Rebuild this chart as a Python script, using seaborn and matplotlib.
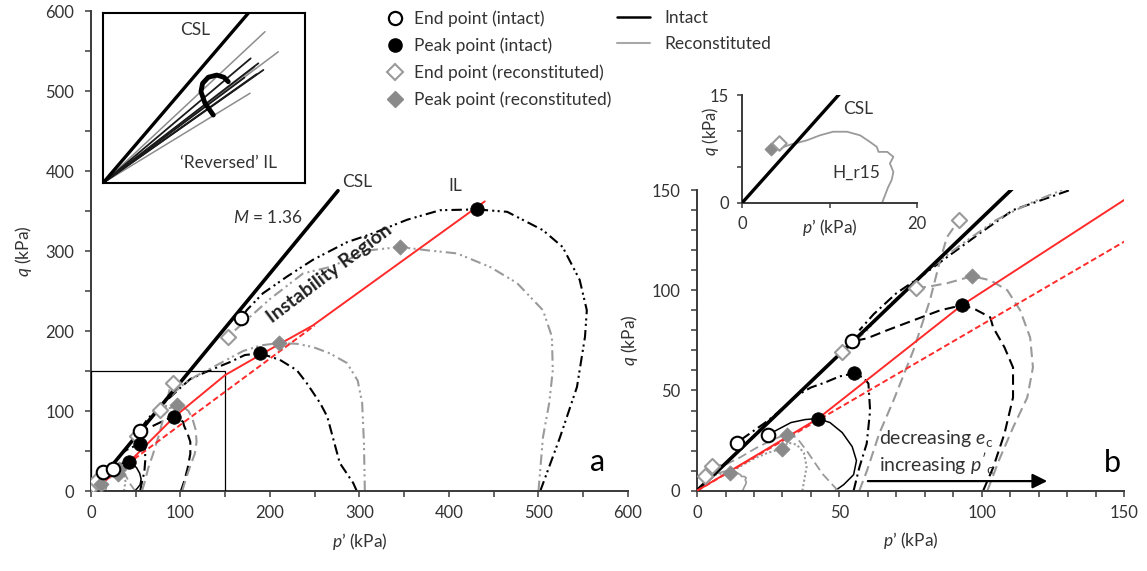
import matplotlib
matplotlib.use("Agg")
import matplotlib.pyplot as plt
from matplotlib.lines import Line2D
from matplotlib.patches import Rectangle
from matplotlib.ticker import MultipleLocator
import seaborn as sns

sns.set_style("ticks")
plt.rcParams["font.family"] = ["Lato", "DejaVu Sans"]
plt.rcParams["mathtext.fontset"] = "custom"
plt.rcParams["mathtext.rm"] = "Lato"
plt.rcParams["mathtext.it"] = "Lato:italic"
plt.rcParams["mathtext.bf"] = "Lato:bold"

# ---------------------------------------------------------------- data
M_csl = 1.36                      # critical state stress ratio
csl_p = [0, 276]
csl_q = [M_csl * p for p in csl_p]

il_intact_p = [0, 42.5, 93, 150, 200, 248, 440]
il_intact_q = [0, 36, 92.5, 145, 177, 207, 362]
il_recon_p = [0, 250]
il_recon_q = [0, 207]

# intact specimens (black)
i1_p = [48.5, 51.5, 55, 56, 54.5, 51, 46.7, 42.5, 38, 33, 29, 25]
i1_q = [0, 3, 8, 15, 22, 29, 34, 36, 35.5, 34, 31, 28]
i2_p = [55, 57, 59.6, 60.8, 60.2, 58.4, 55, 50, 45, 40, 35, 30, 25, 20, 14]
i2_q = [0, 11.5, 23.5, 40, 53.5, 56.5, 58.5, 57, 54, 51.5, 47.5, 41, 35, 30, 24]
i3_p = [100.5, 104, 108, 111, 111, 108, 104, 103, 97, 93, 85.4, 76, 66.7, 59.7, 54.4]
i3_q = [0, 11.5, 28.5, 46.5, 61.5, 71.5, 81.5, 86.5, 91, 92.5, 90, 85, 80, 76, 74.5]
i4_p = [297, 293, 278, 264, 256, 241, 230, 211, 189, 172, 155, 131, 123, 111,
        99.4, 87.8, 78.3, 70, 62, 57]
i4_q = [0, 10, 35, 93, 110, 135, 151, 164, 172, 170, 161, 150, 146, 140,
        128.5, 116.5, 106.5, 98.5, 88, 80]
i5_p = [502, 524, 543, 552, 554, 546, 527, 505, 465, 431, 390, 353, 315, 286,
        248, 219, 192, 174, 168]
i5_q = [0, 67, 130, 193, 226, 264, 305, 326, 349, 352, 351, 339, 322, 311,
        289, 268, 247, 226, 216]

# reconstituted specimens (grey)
r1_p = [37, 38.5, 37.5, 35, 32, 29.8, 25, 20, 15, 11.6, 6, 2.8]
r1_q = [0, 12, 19, 23, 24, 21, 19, 16, 12, 9, 8, 7.5]
r2_p = [49.5, 44, 38.5, 35, 31.6, 26, 21, 15, 10, 5.3]
r2_q = [0, 8.5, 20, 26.5, 28.5, 25, 21.5, 16.5, 13, 12.5]
r3_p = [102, 106, 111, 116, 118, 117, 113.5, 109, 103, 96.6, 87.8, 82, 77]
r3_q = [0, 15, 31.5, 46.5, 61.5, 76.5, 90, 100, 105, 107, 103.5, 102, 101]
r4_p = [306, 305, 303, 298, 286, 267, 248, 230, 210, 190, 170, 150, 130, 117,
        105, 93.5, 85.4, 78, 66.7, 59.7, 51]
r4_q = [0, 60, 110, 138, 160, 172, 180, 184, 185, 182, 175, 163, 151, 143.5,
        135, 123.5, 115, 106.5, 91.5, 80, 69]
r5_p = [500, 505, 512, 516, 515, 505, 476, 446, 409, 375, 345, 312, 267, 237,
        200, 175, 153]
r5_q = [0, 67, 110, 151, 193, 226, 260, 280, 297, 301, 305, 301, 280, 272,
        240, 215, 193]
r6_p = [57, 59.7, 64, 69, 76, 81.8, 85.4, 87.8, 92]
r6_q = [0, 10, 28.5, 45, 70, 95, 115, 126.5, 135]

# test H_r15 (very loose reconstituted)
h15_p = [16.0, 16.7, 17.1, 17.3, 16.9, 17.3, 16.6, 15.6, 15.4, 14.6, 13.5, 12.0,
         10.4, 8.9, 7.4, 5.5, 4.3, 3.2]
h15_q = [0, 2.2, 3.2, 4.3, 5.5, 6.4, 7.1, 7.1, 7.8, 8.5, 9.4, 9.9,
         9.9, 9.4, 8.7, 8.1, 7.6, 7.4]
h15_end_p = [4.2]
h15_end_q = [8.3]
h15_peak_p = [3.3]
h15_peak_q = [7.5]

# characteristic points
end_int_p = [14, 25, 54.4, 168]
end_int_q = [24, 28, 74.5, 216]
peak_int_p = [42.5, 55, 93, 189, 431]
peak_int_q = [36, 58.5, 92.5, 172, 352]
end_rec_p = [2.8, 5.3, 51, 77, 92, 153]
end_rec_q = [7.5, 12.5, 69, 101, 135, 193]
peak_rec_p = [11.6, 29.8, 31.6, 96.6, 210, 345]
peak_rec_q = [9, 21, 28, 107, 185, 305]

# schematic of the 'reversed' instability lines (normalised coordinates)
fan_black_x = [0.731, 0.769, 0.794, 0.70, 0.76]
fan_black_y = [0.733, 0.704, 0.665, 0.62, 0.64]
fan_grey_x = [0.802, 0.868, 0.728, 0.75, 0.66]
fan_grey_y = [0.89, 0.772, 0.528, 0.68, 0.60]
fan_csl_x = [0, 0.72]
fan_csl_y = [0, 1.0]
hook_x = [0.546, 0.505, 0.485, 0.493, 0.521, 0.563, 0.599, 0.620]
hook_y = [0.40, 0.469, 0.537, 0.586, 0.622, 0.635, 0.622, 0.596]

zoom_lim = 150                    # extent of panel b

# ---------------------------------------------------------------- styles
BLACK = "#000000"
GREY = "#9a9a9a"
RED = "#ff2a2a"
TXT = "#333333"
DASH_DOT = (0, (5, 2, 1, 2))
DASH_DOT_DOT = (0, (5, 2, 1, 1.6, 1, 2))
DASHED = (0, (5, 2.6))
DOTTED = (0, (1, 1.2))

paths = [
    (i1_p, i1_q, BLACK, "-", 1.1),
    (i2_p, i2_q, BLACK, DASH_DOT, 1.5),
    (i3_p, i3_q, BLACK, DASHED, 1.5),
    (i4_p, i4_q, BLACK, DASH_DOT, 1.5),
    (i5_p, i5_q, BLACK, DASH_DOT_DOT, 1.5),
    (r1_p, r1_q, GREY, DOTTED, 1.5),
    (r2_p, r2_q, GREY, DASHED, 1.3),
    (r3_p, r3_q, GREY, DASHED, 1.5),
    (r4_p, r4_q, GREY, DASH_DOT_DOT, 1.5),
    (r5_p, r5_q, GREY, DASH_DOT_DOT, 1.5),
    (r6_p, r6_q, GREY, DASHED, 1.5),
    (h15_p, h15_q, GREY, "-", 1.2),
]


def line(ax, x, y, color, ls="-", lw=1.5, zorder=2):
    sns.lineplot(x=x, y=y, sort=False, estimator=None, color=color,
                 linestyle=ls, lw=lw, ax=ax, zorder=zorder)


def points(ax, x, y, marker, s, face, edge, lw=1.5):
    sns.scatterplot(x=x, y=y, marker=marker, s=s, color=face, edgecolor=edge,
                    linewidth=lw, ax=ax, zorder=6)


def draw_panel(ax):
    for p, q, c, ls, lw in paths:
        line(ax, p, q, c, ls, lw)
    line(ax, csl_p, csl_q, BLACK, "-", 2.6, zorder=4)
    line(ax, il_intact_p, il_intact_q, RED, "-", 1.4, zorder=4)
    line(ax, il_recon_p, il_recon_q, RED, (0, (3, 1.6)), 1.4, zorder=4)
    points(ax, end_rec_p, end_rec_q, "D", 60, "white", GREY)
    points(ax, peak_rec_p, peak_rec_q, "D", 60, "#8a8a8a", "#8a8a8a", 0.5)
    points(ax, end_int_p, end_int_q, "o", 95, "white", BLACK)
    points(ax, peak_int_p, peak_int_q, "o", 95, BLACK, BLACK, 0.5)


def style_axes(ax, lim, major, minor):
    ax.set_xlim(0, lim)
    ax.set_ylim(0, lim)
    ax.xaxis.set_major_locator(MultipleLocator(major))
    ax.yaxis.set_major_locator(MultipleLocator(major))
    ax.xaxis.set_minor_locator(MultipleLocator(minor))
    ax.yaxis.set_minor_locator(MultipleLocator(minor))
    sns.despine(ax=ax)
    for s in ("left", "bottom"):
        ax.spines[s].set_linewidth(1.4)
        ax.spines[s].set_color("#3a3a3a")
    ax.tick_params(which="both", direction="out", length=4, width=1.1,
                   color="#3a3a3a", labelcolor=TXT, labelsize=12)
    ax.tick_params(axis="x", which="both", pad=6)
    ax.tick_params(axis="y", which="both", pad=8)
    ax.set_xlabel("$p$’ (kPa)", fontsize=12.5, color=TXT, labelpad=7)
    ax.set_ylabel("$q$ (kPa)", fontsize=12.5, color=TXT, labelpad=8)


fig = plt.figure(figsize=(11.47, 5.71), dpi=100)
ax_a = fig.add_axes([0.0793, 0.1401, 0.4682, 0.8406])
ax_b = fig.add_axes([0.6077, 0.1406, 0.3723, 0.5266])

# ---------------------------------------------------------------- panel a
draw_panel(ax_a)
style_axes(ax_a, 600, 100, 50)
ax_a.add_patch(Rectangle((0, 0), zoom_lim, zoom_lim, fill=False, lw=0.9,
                         ec=BLACK, zorder=3))
ax_a.text(297, 386, "CSL", fontsize=12.5, color=TXT, ha="center", va="center")
ax_a.text(198, 342, "$M$ = 1.36", fontsize=12.5, color=TXT, ha="center", va="center")
ax_a.text(407, 381, "IL", fontsize=12.5, color=TXT, ha="center", va="center")
ax_a.text(266, 272, "Instability Region", fontsize=14, fontweight="bold",
          color="#222222", ha="center", va="center", rotation=37)
ax_a.text(566, 36, "a", fontsize=22, color=BLACK, ha="center", va="center")

# ---------------------------------------------------------------- panel b
draw_panel(ax_b)
style_axes(ax_b, zoom_lim, 50, 10)
ax_b.text(145.8, 14, "b", fontsize=22, color=BLACK, ha="center", va="center")
ax_b.text(64, 26, "decreasing $e_\\mathrm{c}$", fontsize=14, color=TXT,
          ha="left", va="center", zorder=8)
ax_b.text(64, 13.5, "increasing $p'_\\mathrm{c}$", fontsize=14, color=TXT,
          ha="left", va="center", zorder=8)
ax_b.annotate("", xy=(123, 4.8), xytext=(60, 4.8),
              arrowprops=dict(arrowstyle="-|>", color=BLACK, lw=1.6,
                              mutation_scale=22, shrinkA=0, shrinkB=0))

# ---------------------------------------------------------------- inset a
ins_a = fig.add_axes([0.0898, 0.6795, 0.1761, 0.2977])
ins_a.set_xlim(0, 1)
ins_a.set_ylim(0, 1)
ins_a.set_xticks([])
ins_a.set_yticks([])
for s in ins_a.spines.values():
    s.set_linewidth(1.5)
    s.set_color(BLACK)
for x, y in zip(fan_grey_x, fan_grey_y):
    line(ins_a, [0, x], [0, y], "#8d8d8d", "-", 1.1)
for x, y in zip(fan_black_x, fan_black_y):
    line(ins_a, [0, x], [0, y], "#1a1a1a", "-", 1.3)
line(ins_a, fan_csl_x, fan_csl_y, BLACK, "-", 2.4)
line(ins_a, hook_x, hook_y, BLACK, "-", 3.5, zorder=5)
ins_a.text(0.455, 0.90, "CSL", fontsize=12.5, color=TXT, ha="center", va="center")
ins_a.text(0.62, 0.12, "‘Reversed’ IL", fontsize=12.5, color=TXT,
           ha="center", va="center")

# ---------------------------------------------------------------- inset b
ins_b = fig.add_axes([0.6469, 0.6445, 0.1526, 0.1891])
ins_b.patch.set_alpha(0)
line(ins_b, h15_p, h15_q, GREY, "-", 1.3)
line(ins_b, csl_p, csl_q, BLACK, "-", 2.4, zorder=4)
points(ins_b, h15_peak_p, h15_peak_q, "D", 45, "#8a8a8a", "#8a8a8a", 0.5)
points(ins_b, h15_end_p, h15_end_q, "D", 55, "white", GREY)
ins_b.set_xlim(0, 20)
ins_b.set_ylim(0, 15)
ins_b.set_xticks([0, 10, 20])
ins_b.set_xticklabels(["0", "", "20"])
ins_b.set_yticks([0, 5, 10, 15])
ins_b.set_yticklabels(["0", "", "", "15"])
sns.despine(ax=ins_b)
for s in ("left", "bottom"):
    ins_b.spines[s].set_linewidth(1.4)
    ins_b.spines[s].set_color("#3a3a3a")
ins_b.tick_params(direction="out", length=3.5, width=1.1, color="#3a3a3a",
                  labelcolor=TXT, labelsize=12, pad=6)
ins_b.set_xlabel("$p$’ (kPa)", fontsize=12.5, color=TXT)
ins_b.xaxis.set_label_coords(0.5, -0.13)
ins_b.set_ylabel("$q$ (kPa)", fontsize=12, color=TXT)
ins_b.yaxis.set_label_coords(-0.12, 0.66)
ins_b.text(11.6, 13, "CSL", fontsize=12.5, color=TXT, ha="left", va="center")
ins_b.text(10.3, 4.2, "H_r15", fontsize=12.5, color=TXT, ha="left", va="center")

# ---------------------------------------------------------------- legends
marker_handles = [
    Line2D([], [], ls="none", marker="o", ms=9.5, mfc="white", mec=BLACK, mew=1.6),
    Line2D([], [], ls="none", marker="o", ms=9.5, mfc=BLACK, mec=BLACK),
    Line2D([], [], ls="none", marker="D", ms=8, mfc="white", mec=GREY, mew=1.5),
    Line2D([], [], ls="none", marker="D", ms=8, mfc="#8a8a8a", mec="#8a8a8a"),
]
marker_labels = ["End point (intact)", "Peak point (intact)",
                 "End point (reconstituted)", "Peak point (reconstituted)"]
leg1 = fig.legend(marker_handles, marker_labels, loc="upper left",
                  bbox_to_anchor=(0.337, 0.982), frameon=False, fontsize=12.5,
                  handlelength=1.0, handletextpad=0.6, labelspacing=0.6,
                  borderpad=0, borderaxespad=0, labelcolor=TXT)
line_handles = [Line2D([], [], color=BLACK, lw=1.8),
                Line2D([], [], color="#a8a8a8", lw=1.5)]
leg2 = fig.legend(line_handles, ["Intact", "Reconstituted"], loc="upper left",
                  bbox_to_anchor=(0.538, 0.982), frameon=False, fontsize=12.5,
                  handlelength=1.9, handletextpad=0.85, labelspacing=0.55,
                  borderpad=0, borderaxespad=0, labelcolor=TXT)

fig.savefig("out.png", dpi=100)
